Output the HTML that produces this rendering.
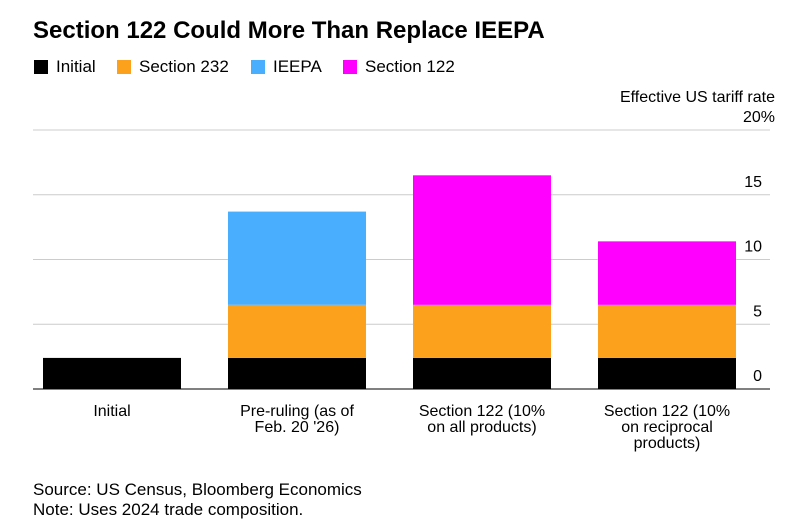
<!DOCTYPE html>
<html><head><meta charset="utf-8"><style>
body{margin:0;width:798px;height:531px;background:#fff;font-family:"Liberation Sans",Arial,sans-serif;overflow:hidden;position:relative}
.title{position:absolute;left:33px;top:17px;font-size:24px;font-weight:bold;color:#000;white-space:nowrap}
.li{position:absolute;top:57px;display:flex;align-items:center;font-size:17px;color:#000;white-space:nowrap}
.sw{width:14px;height:14px;margin-right:8px}
.foot{position:absolute;left:33px;top:480px;font-size:17px;line-height:20px;color:#000;white-space:nowrap}
</style></head><body>
<div class="title">Section 122 Could More Than Replace IEEPA</div>
<div>
<div class="li" style="left:34px"><span class="sw" style="background:#000"></span>Initial</div>
<div class="li" style="left:117px"><span class="sw" style="background:#fba11b"></span>Section 232</div>
<div class="li" style="left:251px"><span class="sw" style="background:#4aaefe"></span>IEEPA</div>
<div class="li" style="left:343px"><span class="sw" style="background:#ff00ff"></span>Section 122</div>
</div>
<svg id="chart" width="798" height="531" style="position:absolute;left:0;top:0"></svg>
<div class="foot">Source: US Census, Bloomberg Economics<br>Note: Uses 2024 trade composition.</div>
<script>
const categories=[["Initial"],["Pre-ruling (as of","Feb. 20 '26)"],["Section 122 (10%","on all products)"],["Section 122 (10%","on reciprocal","products)"]];
const initialVals=[2.4,2.4,2.4,2.4];
const s232Vals=[0,4.1,4.1,4.1];
const ieepaVals=[0,7.2,0,0];
const s122Vals=[0,0,10.0,4.9];
const ticks=[0,5,10,15,20];
const tickLabels=["0","5","10","15","20%"];
const seriesList=[[initialVals,"#000","initial"],[s232Vals,"#fba11b","section-232"],[ieepaVals,"#4aaefe","ieepa"],[s122Vals,"#ff00ff","section-122"]];
const NS="http://www.w3.org/2000/svg",svg=document.getElementById('chart');
const y=v=>389-v*(259/20);
const bandX=i=>35+i*185;
function mk(t,a){const e=document.createElementNS(NS,t);for(const k in a)e.setAttribute(k,a[k]);svg.appendChild(e);return e;}
ticks.forEach((t,i)=>{
 const l=mk('line',{x1:33,x2:770,y1:y(t),y2:y(t),stroke:t===0?'#000':'#ccc','stroke-width':1});
 
 
 const tx=mk('text',{x:i===ticks.length-1?775:762,y:y(t)-8,'text-anchor':'end','font-size':16,fill:'#000'});
 tx.textContent=tickLabels[i];
 
 
});
const at=mk('text',{x:775,y:102,'text-anchor':'end','font-size':16,fill:'#000'});
at.textContent='Effective US tariff rate';


categories.forEach((c,i)=>{
 let base=0;
 seriesList.forEach(([vals,col,nm])=>{
  const v=vals[i];
  if(v>0){const r=mk('rect',{x:bandX(i)+8,width:138,y:y(base+v),height:y(base)-y(base+v),fill:col});
  
  }
  base+=v;
 });
 c.forEach((ln,j)=>{
  const t=mk('text',{x:bandX(i)+77,y:416+j*16,'text-anchor':'middle','font-size':16,fill:'#000'});
  t.textContent=ln;
  
  
 });
});
</script>
</body></html>
